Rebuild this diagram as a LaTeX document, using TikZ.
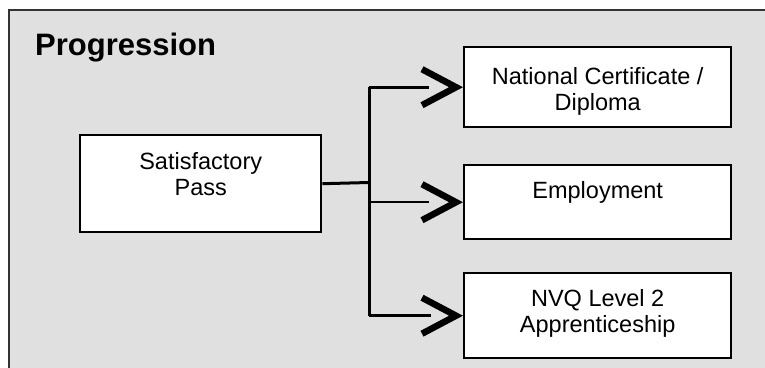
\documentclass[tikz,border=0pt]{standalone}
\usepackage{fontspec}
\setmainfont{Liberation Sans}
\usepackage{xcolor}
\usepackage{tikz}
\definecolor{panel}{HTML}{E0E0E0}
\definecolor{frame}{HTML}{333333}
\definecolor{ink}{HTML}{000000}
\newcommand{\boxtxt}[4]{\parbox[c][#2pt][t]{#1pt}{\centering\rule{0pt}{#3pt}#4}}

\begin{document}
\begin{tikzpicture}[x=1pt,y=-1pt,
  box/.style={draw=ink,fill=white,line width=2.4pt,inner sep=0pt,anchor=north west,
    font=\fontsize{23.5}{26.5}\selectfont},
  link/.style={ink,line width=3pt},
  thinlink/.style={ink,line width=1.7pt},
  chev/.style={ink,line width=6.5pt,line join=miter}]
  \useasboundingbox (0,0) rectangle (765,367);
  \fill[panel] (9,10) rectangle (766,368);
  \draw[frame,line width=2.2pt] (9,368) -- (9,10) -- (766,10);
  \node[anchor=base west,inner sep=0pt,font=\bfseries\fontsize{31}{36}\selectfont] (title) at (35,55) {Progression};
  % boxes
  \node[box] (sat) at (79,134) {\boxtxt{241}{97}{34}{Satisfactory\\Pass}};
  \node[box] (nc) at (463,46) {\boxtxt{267}{80}{37}{National Certificate /\\Diploma}};
  \node[box] (emp) at (463,164) {\boxtxt{267}{74}{33}{Employment}};
  \node[box] (nvq) at (463,272) {\boxtxt{267}{85}{33}{NVQ Level 2\\Apprenticeship}};
  % fork and branches
  \coordinate (fork) at (369,182.5);
  \draw[link] (sat.east) -- (fork);
  \draw[link] (fork |- nc.west) -- (fork |- nvq.west);
  \draw[link] (fork |- nc.west) -- ([xshift=-34pt]nc.west);
  \draw[thinlink] ([xshift=1pt]fork |- emp.west) -- ([xshift=-34pt]emp.west);
  \draw[link] (fork |- nvq.west) -- ([xshift=-32pt]nvq.west);
  \foreach \b in {nc,emp,nvq}{\draw[chev]([shift={(-41pt,18pt)}]\b.west)--([xshift=-7pt]\b.west)--([shift={(-41pt,-18pt)}]\b.west);}
\end{tikzpicture}
\end{document}
